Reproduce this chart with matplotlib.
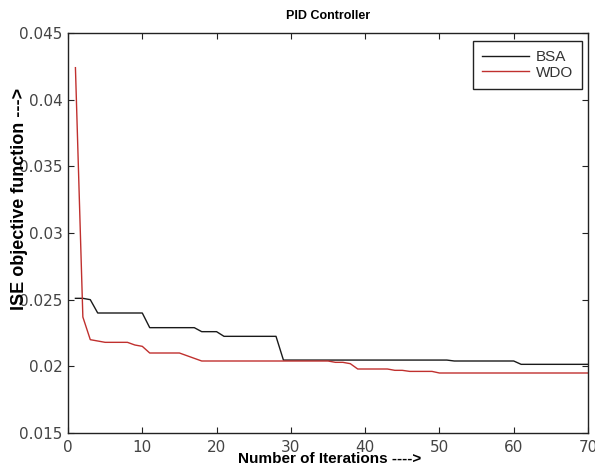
import matplotlib
matplotlib.use("Agg")
import matplotlib.pyplot as plt

iterations = list(range(1, 71))

bsa = [0.0251, 0.0251, 0.0250, 0.0240, 0.0240, 0.0240, 0.0240, 0.0240, 0.0240, 0.0240,
       0.0229, 0.0229, 0.0229, 0.0229, 0.0229, 0.0229, 0.0229, 0.0226, 0.0226, 0.0226,
       0.02225, 0.02225, 0.02225, 0.02225, 0.02225, 0.02225, 0.02225, 0.02225, 0.02047, 0.02047,
       0.02047, 0.02047, 0.02047, 0.02047, 0.02047, 0.02047, 0.02047, 0.02047, 0.02047, 0.02047,
       0.02047, 0.02047, 0.02047, 0.02047, 0.02047, 0.02047, 0.02047, 0.02047, 0.02047, 0.02047,
       0.02047, 0.0204, 0.0204, 0.0204, 0.0204, 0.0204, 0.0204, 0.0204, 0.0204, 0.0204,
       0.02015, 0.02015, 0.02015, 0.02015, 0.02015, 0.02015, 0.02015, 0.02015, 0.02015, 0.02015]

wdo = [0.0424, 0.0237, 0.0220, 0.0219, 0.0218, 0.0218, 0.0218, 0.0218, 0.0216, 0.0215,
       0.0210, 0.0210, 0.0210, 0.0210, 0.0210, 0.0208, 0.0206, 0.0204, 0.0204, 0.0204,
       0.0204, 0.0204, 0.0204, 0.0204, 0.0204, 0.0204, 0.0204, 0.0204, 0.0204, 0.0204,
       0.0204, 0.0204, 0.0204, 0.0204, 0.0204, 0.0203, 0.0203, 0.0202, 0.0198, 0.0198,
       0.0198, 0.0198, 0.0198, 0.0197, 0.0197, 0.01962, 0.01962, 0.01962, 0.01962, 0.0195,
       0.0195, 0.0195, 0.0195, 0.0195, 0.0195, 0.0195, 0.0195, 0.0195, 0.0195, 0.0195,
       0.0195, 0.0195, 0.0195, 0.0195, 0.0195, 0.0195, 0.0195, 0.0195, 0.0195, 0.0195]

xticks = [0, 10, 20, 30, 40, 50, 60, 70]
yticks = [0.015, 0.02, 0.025, 0.03, 0.035, 0.04, 0.045]
ytick_labels = ["0.015", "0.02", "0.025", "0.03", "0.035", "0.04", "0.045"]

series_names = ["BSA", "WDO"]
title = "PID Controller"
xlabel = "Number of Iterations ---->"
ylabel = "ISE objective function --->"

fig = plt.figure(figsize=(5.95, 4.68), dpi=100)
ax = fig.add_axes([68 / 595, 35 / 468, 520 / 595, 400 / 468])

ax.plot(iterations, bsa, color="#1a1a1a", lw=1.0, label=series_names[0])
ax.plot(iterations, wdo, color="#c0302e", lw=1.0, label=series_names[1])

ax.set_xlim(0, 70)
ax.set_ylim(0.015, 0.045)
ax.set_xticks(xticks)
ax.set_xticklabels([str(t) for t in xticks])
ax.set_yticks(yticks)
ax.set_yticklabels(ytick_labels)

ax.tick_params(direction="in", length=4, width=0.8, top=True, right=True,
               labelsize=11, labelcolor="#444444", colors="#222222")
ax.tick_params(axis="x", pad=5)
ax.tick_params(axis="y", pad=4)
for lab in ax.get_xticklabels() + ax.get_yticklabels():
    lab.set_fontfamily("DejaVu Sans")
for sp in ax.spines.values():
    sp.set_linewidth(1.0)
    sp.set_color("#222222")

ax.set_xlabel(xlabel, fontsize=11, fontweight="bold", family="Liberation Sans")
ax.xaxis.set_label_coords(0.504, -0.065)
ax.xaxis.label.set_va("center")
ax.set_ylabel(ylabel, fontsize=13, fontweight="bold", family="Liberation Sans")
ax.yaxis.set_label_coords(-0.094, 0.585)
ax.yaxis.label.set_va("center")

ax.text(0.5, 1.0425, title, transform=ax.transAxes, ha="center", va="center",
        fontsize=9, fontweight="bold", family="Liberation Sans")

leg = ax.legend(loc="upper right", bbox_to_anchor=((582 - 68) / 520, (433 - 41) / 400),
                borderaxespad=0, fancybox=False, frameon=True, edgecolor="#222222",
                prop={"family": "Liberation Sans", "size": 11},
                handlelength=3.1, handletextpad=0.4, labelspacing=0.1,
                borderpad=0.6, framealpha=1)
leg.get_frame().set_linewidth(1.0)
for t in leg.get_texts():
    t.set_color("#333333")

fig.savefig("out.png", dpi=100)
